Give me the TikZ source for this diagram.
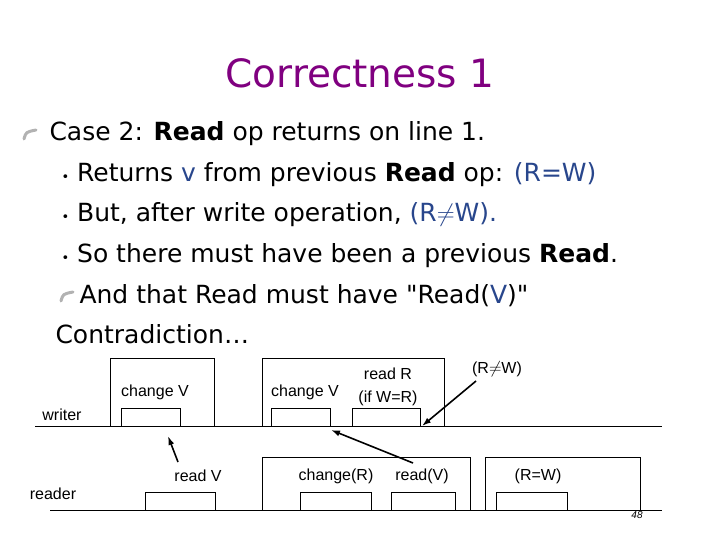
\documentclass[tikz,border=0pt]{standalone}
\usepackage{fontspec}
\setmainfont{DejaVu Sans}
\newfontfamily\diagfont{Liberation Sans}
\usetikzlibrary{positioning,calc,arrows.meta}
\definecolor{titlepurple}{RGB}{128,0,128}
\definecolor{varblue}{RGB}{40,70,140}
\tikzset{
	line/.style={anchor=base west, font=\fontsize{25}{28}\selectfont},
	lbl/.style={font=\diagfont\fontsize{16}{17}\selectfont},
	op/.style={draw, semithick},
	cause/.style={line width=1.6pt, -{Latex[length=9pt,width=6pt]}}
}
\newcommand{\leaf}[1]{\draw[gray!60, line width=3pt, line cap=round] ($#1+(-6,5)$) .. controls ($#1+(-4,-2)$) .. ($#1+(6,-4)$);}
\newcommand{\subdot}{{\fontsize{13}{14}\selectfont\textbullet}\ }
\begin{document}
\begin{tikzpicture}[x=1pt,y=-1pt]
	\useasboundingbox (0,0) rectangle (720,540);
	\node[font=\fontsize{39}{40}\selectfont, text=titlepurple] (title) at (360,73) {Correctness 1};
	
	\leaf{(30,134)}
	\node[line] (l1) at (46,141) {Case 2: \textbf{Read} op returns on line 1.};
	\node[line] (l2) at (58,182) {\subdot Returns \textcolor{varblue}{v} from previous \textbf{Read} op: \textcolor{varblue}{(R=W)}};
	\node[line] (l3) at (58,222) {\subdot But, after write operation, \textcolor{varblue}{(R$\neq$W).}};
	\node[line] (l4) at (58,262) {\subdot So there must have been a previous \textbf{Read}.};
	\leaf{(67,296)}
	\node[line] (l5) at (76,303) {And that Read must have \textquotedbl Read(\textcolor{varblue}{V})\textquotedbl};
	\node[line] (l6) at (52,343) {Contradiction\ldots};
	
	% time lines
	\draw[semithick] (35,426) -- (662,426);
	\draw[semithick] (50,510) -- (662,510);
	\node[lbl] (writer) at (62,415) {writer};
	\node[lbl] (reader) at (53,494) {reader};
	
	% writer operations
	\draw[op] (110,426) |- (214,358) -- (214,426);
	\draw[op] (121,426) |- (180,408) -- (180,426);
	\node[lbl] (chg1) at (155,392) {change V};
	\draw[op] (262,426) |- (444,358) -- (444,426);
	\draw[op] (271,426) |- (330,408) -- (330,426);
	\draw[op] (352,426) |- (420,408) -- (420,426);
	\node[lbl] (chg2) at (305,392) {change V};
	\node[lbl] (readR) at (388,374) {read R};
	\node[lbl] (ifWR) at (388,398) {(if W=R)};
	\node[lbl] (neq) at (497,369) {(R$\neq$W)};
	\coordinate (wend) at (422,426);
	\draw[cause] (476,381) -- (wend);
	
	% reader operations
	\draw[op] (145,510) |- (215,492) -- (215,510);
	\node[lbl] (readV) at (198,476) {read V};
	\coordinate (rd1) at (178,462);
	\coordinate (wch1) at (168,436);
	\draw[cause] (rd1) -- (wch1);
	\draw[op] (262,510) |- (470,457) -- (470,510);
	\draw[op] (300,510) |- (371,492) -- (371,510);
	\draw[op] (391,510) |- (455,492) -- (455,510);
	\node[lbl] (chgR) at (336,476) {change(R)};
	\node[lbl] (rdV) at (422,476) {read(V)};
	\coordinate (rd2) at (413,463);
	\coordinate (wch2) at (331,430);
	\draw[cause] (rd2) -- (wch2);
	\draw[op] (485,510) |- (640,457) -- (640,510);
	\draw[op] (496,510) |- (567,492) -- (567,510);
	\node[lbl] (eq) at (538,476) {(R=W)};
	\node[font=\diagfont\itshape\fontsize{10}{11}\selectfont] (page) at (637,515) {48};
\end{tikzpicture}
\end{document}
